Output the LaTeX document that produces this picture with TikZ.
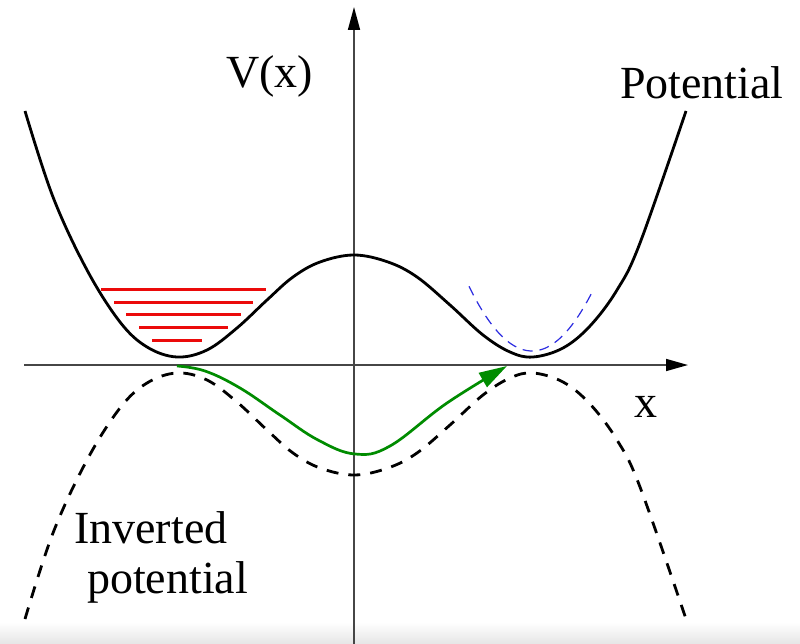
\documentclass[tikz,border=0pt]{standalone}
\usepackage{fontspec}
\setmainfont{Liberation Serif}
\usetikzlibrary{arrows.meta}
\definecolor{axisgray}{RGB}{70,70,70}
\definecolor{wellred}{RGB}{235,10,10}
\definecolor{pathgreen}{RGB}{0,140,0}
\definecolor{harmblue}{RGB}{45,45,225}
\tikzset{
  axisline/.style={axisgray, line width=1.7pt},
  curve/.style={black, line width=2.8pt},
  invcurve/.style={black, line width=2.8pt, dash pattern=on 12pt off 10pt},
  level/.style={wellred, line width=3pt},
  harm/.style={harmblue, line width=1.2pt, dash pattern=on 10pt off 7pt},
  bounce/.style={pathgreen, line width=2.7pt},
  lbl/.style={font=\fontsize{46}{52}\selectfont, inner sep=0pt, anchor=base west}
}
\begin{document}
\begin{tikzpicture}[x=1pt,y=-1pt]
\useasboundingbox (0,0) rectangle (800,644);
\fill[white] (0,0) rectangle (800,644);
\shade[top color=white, bottom color=black!10] (0,622) rectangle (800,644);

% axes
\coordinate (xstart) at (24,365);
\coordinate (xend) at (688,365);
\coordinate (ystart) at (354,644);
\coordinate (yend) at (354,7);
\draw[axisline, -{Triangle[length=22pt,width=12pt]}, arrows={[fill=black,color=black]}] (xstart) -- (xend);
\draw[axisline, -{Triangle[length=23pt,width=12pt]}, arrows={[fill=black,color=black]}] (ystart) -- (yend);

% energy levels
\draw[level] (101,289) -- (266,289);
\draw[level] (114,302) -- (253,302);
\draw[level] (126,314) -- (241,314);
\draw[level] (139,327) -- (228,327);
\draw[level] (152,340) -- (202,340);

% harmonic approximation
\draw[harm] plot[domain=469:594, samples=40] (\x,{351-0.0163*(\x-532)*(\x-532)});

% potential
\draw[curve, line join=round] plot[smooth, tension=0.6] coordinates {
 (25,111) (53,197) (87,270) (120,322) (147,347) (177,357)
 (207,350) (237,328) (267,300) (293,277) (320,262) (354,255) (388,262) (417,277)
 (450,305) (483,335) (510,352) (533,357) (563,348) (590,326) (617,290) (640,243)
 (686,111)};

% inverted potential (mirror about y=365)
\begin{scope}[shift={(0,730)}, yscale=-1]
\draw[invcurve] plot[smooth, tension=0.6] coordinates {
 (25,111) (53,197) (87,270) (120,322) (147,347) (177,357)
 (207,350) (237,328) (267,300) (293,277) (320,262) (354,255) (388,262) (417,277)
 (450,305) (483,335) (510,352) (533,357) (563,348) (590,326) (617,290) (640,243)
 (686,111)};
\end{scope}

% bounce trajectory
\draw[bounce, -{Triangle[length=28pt,width=16pt]}] plot[smooth, tension=0.65] coordinates {
 (177,366) (205,371) (240,388) (280,415) (318,440) (355,454) (390,446)
 (447,403) (507,366)};

% labels
\node[lbl] (vlab) at (226,88) {V(x)};
\node[lbl] (potlab) at (620,99) {Potential};
\node[lbl] (xlab) at (634,417) {x};
\node[lbl] (invlab1) at (74,543) {Inverted};
\node[lbl] (invlab2) at (87,593) {potential};
\end{tikzpicture}
\end{document}
